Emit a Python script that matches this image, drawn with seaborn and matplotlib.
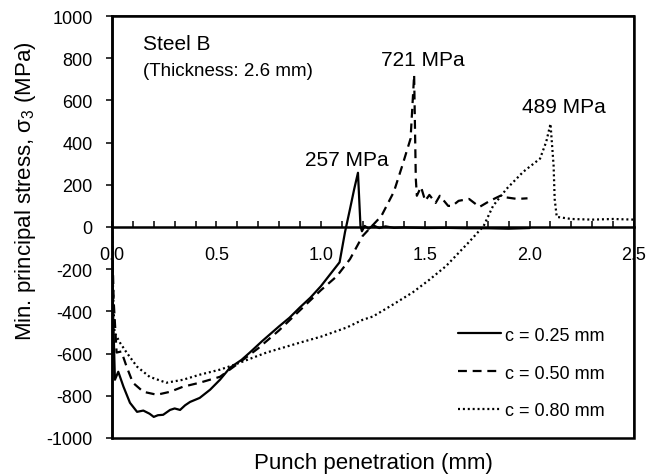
import numpy as np
import pandas as pd
import matplotlib
matplotlib.use("Agg")
import matplotlib.pyplot as plt
import seaborn as sns

# ---- data ----
labels = ["c = 0.25 mm", "c = 0.50 mm", "c = 0.80 mm"]

x_025 = [0.0, 0.005, 0.014, 0.03, 0.055, 0.086, 0.12, 0.15, 0.18, 0.2, 0.22, 0.245,
         0.278, 0.3, 0.326, 0.35, 0.374, 0.42, 0.47, 0.517, 0.565, 0.62, 0.66, 0.72,
         0.8, 0.85, 0.9, 0.95, 1.0, 1.06, 1.09, 1.116, 1.14, 1.16, 1.178, 1.19, 1.197,
         1.21, 1.23, 1.25, 1.28, 1.31, 1.35, 1.4, 1.5, 1.6, 1.7, 1.8, 1.9, 2.0]
y_025 = [-20, -400, -724, -686, -757, -833, -876, -870, -885, -900, -892, -890,
         -867, -860, -867, -845, -829, -810, -771, -724, -667, -630, -595, -540,
         -471, -430, -381, -335, -281, -205, -167, -24, 86, 180, 257, 5, -20,
         5, -8, 8, -5, 3, -4, -2, -5, -4, -6, -6, -8, -5]

x_050 = [0.0, 0.008, 0.022, 0.045, 0.07, 0.1, 0.15, 0.215, 0.278, 0.34, 0.42, 0.517,
         0.6, 0.7, 0.8, 0.9, 1.0, 1.077, 1.14, 1.2, 1.29, 1.35, 1.39, 1.43, 1.447,
         1.455, 1.46, 1.48, 1.50, 1.52, 1.55, 1.57, 1.61, 1.63, 1.66, 1.71, 1.76,
         1.81, 1.86, 1.89, 1.94, 1.99]
y_050 = [-20, -350, -595, -590, -662, -738, -781, -795, -781, -757, -738, -710,
         -650, -575, -490, -395, -300, -233, -152, -43, 52, 167, 290, 419, 721,
         229, 148, 190, 124, 152, 114, 148, 100, 100, 124, 133, 95,
         124, 148, 140, 133, 136]

x_080 = [0.0, 0.005, 0.012, 0.038, 0.07, 0.12, 0.18, 0.26, 0.34, 0.42, 0.517, 0.58,
         0.74, 0.9, 1.0, 1.125, 1.2, 1.25, 1.35, 1.44, 1.52, 1.6, 1.71, 1.78, 1.825,
         1.89, 1.97, 2.05, 2.08, 2.1, 2.115, 2.12, 2.13, 2.2, 2.3, 2.4, 2.5]
y_080 = [-20, -300, -500, -548, -595, -662, -710, -738, -724, -700, -676, -655,
         -595, -548, -520, -476, -440, -424, -365, -310, -250, -185, -71, 5, 100,
         181, 262, 324, 405, 489, 290, 133, 48, 38, 35, 38, 35]

peak_text = ["257 MPa", "721 MPa", "489 MPa"]
peak_text_x = [1.123, 1.49, 2.162]
peak_text_y = [321, 795, 571]

x_ticks = [0.0, 0.5, 1.0, 1.5, 2.0, 2.5]
y_ticks = [-1000, -800, -600, -400, -200, 0, 200, 400, 600, 800, 1000]

df = pd.concat([
    pd.DataFrame({"x": x_025, "y": y_025, "series": labels[0]}),
    pd.DataFrame({"x": x_050, "y": y_050, "series": labels[1]}),
    pd.DataFrame({"x": x_080, "y": y_080, "series": labels[2]}),
], ignore_index=True)

sns.set_theme(style="white")
plt.rcParams["font.family"] = ["Liberation Sans", "DejaVu Sans"]
plt.rcParams["mathtext.default"] = "regular"
plt.rcParams["axes.unicode_minus"] = False
plt.rcParams["text.color"] = "black"
plt.rcParams["axes.labelcolor"] = "black"

fig = plt.figure(figsize=(6.59, 4.77), dpi=100)
ax = fig.add_axes([112 / 659, 38 / 477, 522 / 659, 422 / 477])

dashes = {labels[0]: "", labels[1]: (4.0, 2.6), labels[2]: (0.9, 1.3)}
sns.lineplot(data=df, x="x", y="y", style="series", dashes=dashes,
             color="black", linewidth=1.6, sort=False, estimator=None, ax=ax)

ax.set_xlim(0, 2.5)
ax.set_ylim(-1000, 1000)

# spines / frame
ax.spines["bottom"].set_position(("data", 0))
ax.spines["bottom"].set_linewidth(1.8)
ax.spines["left"].set_linewidth(1.8)
ax.spines["top"].set_linewidth(1.1)
ax.spines["right"].set_linewidth(1.1)
for s in ax.spines.values():
    s.set_color("black")
ax.patch.set_edgecolor("black")
ax.patch.set_linewidth(1.8)

ax.set_xticks(x_ticks)
ax.set_xticklabels([f"{v:.1f}" for v in x_ticks])
ax.set_xticks(np.arange(0, 2.51, 0.1), minor=True)
ax.tick_params(axis="x", which="both", direction="in", length=4.5, width=1.1,
               colors="black", pad=14, labelsize=13, bottom=True)
ax.set_yticks(y_ticks)
ax.tick_params(axis="y", which="major", direction="out", length=4, width=1.1,
               colors="black", pad=10, labelsize=13, left=True)

ax.set_xlabel("Punch penetration (mm)", fontsize=16)
ax.xaxis.set_label_coords(0.5, -0.033)
ax.set_ylabel("Min. principal stress, σ$_{3}$ (MPa)", fontsize=16)
ax.yaxis.set_label_coords(-0.142, 0.588)

ax.text(0.059, 0.934, "Steel B", transform=ax.transAxes, fontsize=15,
        ha="left", va="center")
ax.text(0.059, 0.871, "(Thickness: 2.6 mm)", transform=ax.transAxes, fontsize=13.5,
        ha="left", va="center")
for t, tx, ty in zip(peak_text, peak_text_x, peak_text_y):
    ax.text(tx, ty, t, fontsize=15, ha="center", va="center")

handles, lbls = ax.get_legend_handles_labels()
ax.legend(handles, lbls, loc="upper left", bbox_to_anchor=(0.645, 0.285),
          frameon=False, fontsize=13, handlelength=2.4, handletextpad=0.2,
          labelspacing=1.15, borderpad=0)

fig.savefig("out.png", dpi=100)
